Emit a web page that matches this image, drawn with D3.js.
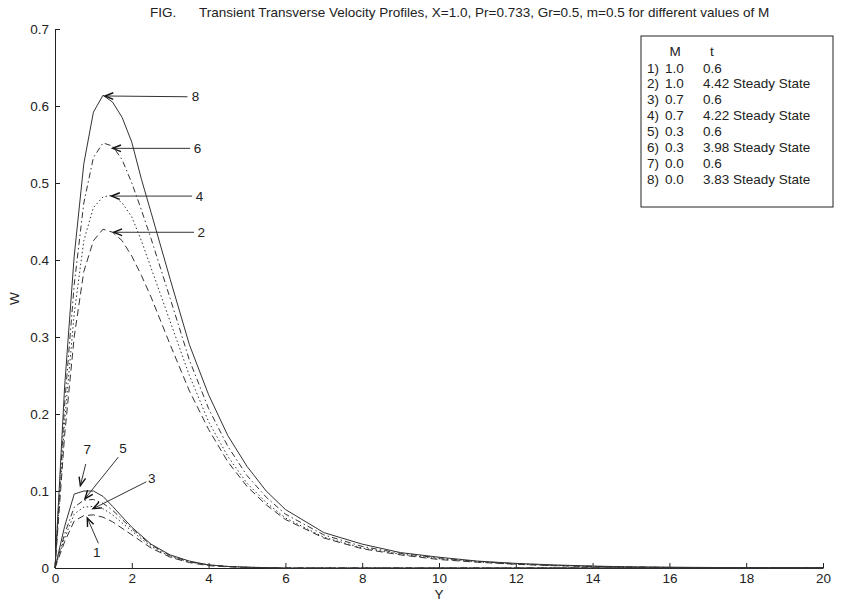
<!DOCTYPE html>
<html>
<head>
<meta charset="utf-8">
<script src="https://cdn.jsdelivr.net/npm/d3@7"></script>
<style>
  html, body { margin: 0; padding: 0; background: #fff; }
  svg { display: block; font-family: "Liberation Sans", Arial, Helvetica, sans-serif; }
</style>
</head>
<body>
<svg id="chart" width="856" height="603"></svg>
<script>
// ---- data -------------------------------------------------------------
// Steady-state profiles (curves 2, 4, 6, 8) sampled along Y
const ySteady = [0, 0.25, 0.5, 0.75, 1.0, 1.25, 1.5, 1.75, 2.0, 2.25, 2.5, 3.0, 3.5, 4.0, 4.5, 5.0, 5.5, 6.0, 7.0, 8.0, 9.0, 10, 11, 12, 13, 14, 15, 16, 18, 20];
const w8 = [0, 0.235, 0.405, 0.525, 0.592, 0.614, 0.605, 0.585, 0.553, 0.505, 0.462, 0.375, 0.290, 0.225, 0.172, 0.132, 0.100, 0.076, 0.046, 0.031, 0.020, 0.014, 0.009, 0.006, 0.004, 0.0025, 0.0015, 0.001, 0.0004, 0.0002];
const w6 = [0, 0.212, 0.368, 0.474, 0.533, 0.552, 0.548, 0.530, 0.500, 0.465, 0.428, 0.350, 0.270, 0.207, 0.158, 0.120, 0.092, 0.070, 0.043, 0.028, 0.019, 0.013, 0.0085, 0.0055, 0.0035, 0.0022, 0.0013, 0.0008, 0.0003, 0.0001];
const w4 = [0, 0.190, 0.330, 0.425, 0.468, 0.482, 0.484, 0.474, 0.456, 0.425, 0.390, 0.320, 0.250, 0.190, 0.145, 0.110, 0.085, 0.065, 0.040, 0.026, 0.018, 0.012, 0.008, 0.005, 0.0032, 0.002, 0.0012, 0.0007, 0.0003, 0.0001];
const w2 = [0, 0.172, 0.300, 0.385, 0.425, 0.440, 0.436, 0.425, 0.405, 0.380, 0.352, 0.290, 0.230, 0.180, 0.138, 0.106, 0.082, 0.063, 0.039, 0.025, 0.017, 0.011, 0.0075, 0.0048, 0.003, 0.0019, 0.0011, 0.0007, 0.0003, 0.0001];

// Transient profiles at t = 0.6 (curves 1, 3, 5, 7)
const yTransient = [0, 0.25, 0.5, 0.75, 1.0, 1.25, 1.5, 2.0, 2.5, 3.0, 3.5, 4.0, 4.5, 5.0, 6.0, 8.0, 20];
const w7 = [0, 0.054, 0.096, 0.100, 0.100, 0.093, 0.080, 0.053, 0.031, 0.017, 0.009, 0.004, 0.002, 0.001, 0, 0, 0];
const w5 = [0, 0.044, 0.079, 0.088, 0.089, 0.084, 0.075, 0.051, 0.030, 0.016, 0.008, 0.004, 0.002, 0.001, 0, 0, 0];
const w3 = [0, 0.039, 0.070, 0.079, 0.080, 0.077, 0.069, 0.048, 0.028, 0.015, 0.008, 0.004, 0.002, 0.001, 0, 0, 0];
const w1 = [0, 0.034, 0.061, 0.068, 0.069, 0.066, 0.060, 0.043, 0.026, 0.014, 0.007, 0.003, 0.0015, 0.0007, 0, 0, 0];

// Legend rows
const legendNum = ["1)", "2)", "3)", "4)", "5)", "6)", "7)", "8)"];
const legendM = ["1.0", "1.0", "0.7", "0.7", "0.3", "0.3", "0.0", "0.0"];
const legendT = ["0.6", "4.42 Steady State", "0.6", "4.22 Steady State", "0.6", "3.98 Steady State", "0.6", "3.83 Steady State"];

// Axis ticks
const xTicks = [0, 2, 4, 6, 8, 10, 12, 14, 16, 18, 20];
const yTicks = [0, 0.1, 0.2, 0.3, 0.4, 0.5, 0.6, 0.7];

// Curve labels with arrows (label position, arrow tail, arrow tip) in data units
const arrowLabels = ["8", "6", "4", "2", "7", "5", "3", "1"];
const arrowText = [[3.66, 0.612], [3.71, 0.545], [3.76, 0.483], [3.81, 0.436], [0.84, 0.154], [1.77, 0.156], [2.52, 0.117], [1.09, 0.021]];
const arrowTail = [[3.45, 0.612], [3.52, 0.545], [3.57, 0.483], [3.62, 0.436], [0.80, 0.135], [1.65, 0.144], [2.38, 0.112], [1.13, 0.032]];
const arrowTip = [[1.30, 0.613], [1.50, 0.545], [1.47, 0.483], [1.53, 0.436], [0.66, 0.107], [0.78, 0.090], [0.99, 0.077], [0.84, 0.065]];

// ---- layout -----------------------------------------------------------
const svg = d3.select("#chart");
const x = d3.scaleLinear().domain([0, 20]).range([55, 823]);
const y = d3.scaleLinear().domain([0, 0.7]).range([568, 29]);
const ink = "#222";
const fs = 13.5;

// Title
svg.append("text").attr("x", 150).attr("y", 17).attr("font-size", fs).attr("fill", ink).text("FIG.");
svg.append("text").attr("x", 199).attr("y", 17).attr("font-size", fs).attr("fill", ink)
  .text("Transient Transverse Velocity Profiles, X=1.0, Pr=0.733, Gr=0.5, m=0.5 for different values of M");

// Axes (ticks pointing inward)
const xAxis = d3.axisBottom(x).tickValues(xTicks).tickSizeInner(-5).tickSizeOuter(0).tickPadding(5)
  .tickFormat(d3.format("d"));
const yAxis = d3.axisLeft(y).tickValues(yTicks).tickSizeInner(-5).tickSizeOuter(0).tickPadding(6)
  .tickFormat(d => d === 0 ? "0" : d3.format(".1f")(d));

const gx = svg.append("g").attr("transform", `translate(0,${y(0)})`).call(xAxis);
const gy = svg.append("g").attr("transform", `translate(${x(0)},0)`).call(yAxis);
[gx, gy].forEach(g => {
  g.select(".domain").attr("stroke", ink);
  g.selectAll(".tick line").attr("stroke", ink);
  g.selectAll(".tick text").attr("fill", ink).attr("font-size", fs)
    .attr("font-family", "Liberation Sans, Arial, sans-serif");
});

// Axis titles
svg.append("text").attr("x", x(10)).attr("y", 599).attr("text-anchor", "middle")
  .attr("font-size", fs).attr("fill", ink).text("Y");
svg.append("text").attr("transform", `translate(19,${y(0.35)}) rotate(-90)`)
  .attr("text-anchor", "middle").attr("font-size", fs).attr("fill", ink).text("W");

// Curves
const line = d3.line().x(d => x(d[0])).y(d => y(d[1]));
const dashStyles = {
  solid: null,
  dashdot: "6,3,1.5,3",
  dotted: "1.5,2.5",
  dashed: "7,4"
};
const series = [
  { ys: yTransient, ws: w1, dash: dashStyles.dashed },
  { ys: ySteady, ws: w2, dash: dashStyles.dashed },
  { ys: yTransient, ws: w3, dash: dashStyles.dotted },
  { ys: ySteady, ws: w4, dash: dashStyles.dotted },
  { ys: yTransient, ws: w5, dash: dashStyles.dashdot },
  { ys: ySteady, ws: w6, dash: dashStyles.dashdot },
  { ys: yTransient, ws: w7, dash: dashStyles.solid },
  { ys: ySteady, ws: w8, dash: dashStyles.solid }
];
svg.append("g").selectAll("path").data(series).join("path")
  .attr("d", s => line(s.ys.map((v, i) => [v, s.ws[i]])))
  .attr("fill", "none")
  .attr("stroke", "#333")
  .attr("stroke-width", 1)
  .attr("stroke-dasharray", s => s.dash);

// Arrow annotations
const ga = svg.append("g");
arrowLabels.forEach((lab, i) => {
  const [tx, ty] = [x(arrowTip[i][0]), y(arrowTip[i][1])];
  const [sx, sy] = [x(arrowTail[i][0]), y(arrowTail[i][1])];
  ga.append("line").attr("x1", sx).attr("y1", sy).attr("x2", tx).attr("y2", ty)
    .attr("stroke", "#333").attr("stroke-width", 1);
  const ang = Math.atan2(sy - ty, sx - tx);
  const len = 9, spread = 0.38;
  const p1 = [tx + len * Math.cos(ang + spread), ty + len * Math.sin(ang + spread)];
  const p2 = [tx + len * Math.cos(ang - spread), ty + len * Math.sin(ang - spread)];
  ga.append("path")
    .attr("d", `M${p1[0]},${p1[1]}L${tx},${ty}L${p2[0]},${p2[1]}`)
    .attr("fill", "none").attr("stroke", "#111").attr("stroke-width", 1.4);
  ga.append("text").attr("x", x(arrowText[i][0])).attr("y", y(arrowText[i][1]))
    .attr("dy", "0.35em").attr("text-anchor", "middle")
    .attr("font-size", fs).attr("fill", ink).text(lab);
});

// Legend box
const lg = svg.append("g");
lg.append("rect").attr("x", 641).attr("y", 36).attr("width", 192).attr("height", 171)
  .attr("fill", "#fff").attr("stroke", ink).attr("stroke-width", 1);
lg.append("text").attr("x", 675).attr("y", 56).attr("text-anchor", "middle")
  .attr("font-size", fs).attr("fill", ink).text("M");
lg.append("text").attr("x", 712).attr("y", 56).attr("text-anchor", "middle")
  .attr("font-size", fs).attr("fill", ink).text("t");
legendNum.forEach((n, i) => {
  const by = 72.5 + i * 15.9;
  lg.append("text").attr("x", 647).attr("y", by).attr("font-size", fs).attr("fill", ink).text(n);
  lg.append("text").attr("x", 665).attr("y", by).attr("font-size", fs).attr("fill", ink).text(legendM[i]);
  lg.append("text").attr("x", 703).attr("y", by).attr("font-size", fs).attr("fill", ink).text(legendT[i]);
});
</script>
</body>
</html>
